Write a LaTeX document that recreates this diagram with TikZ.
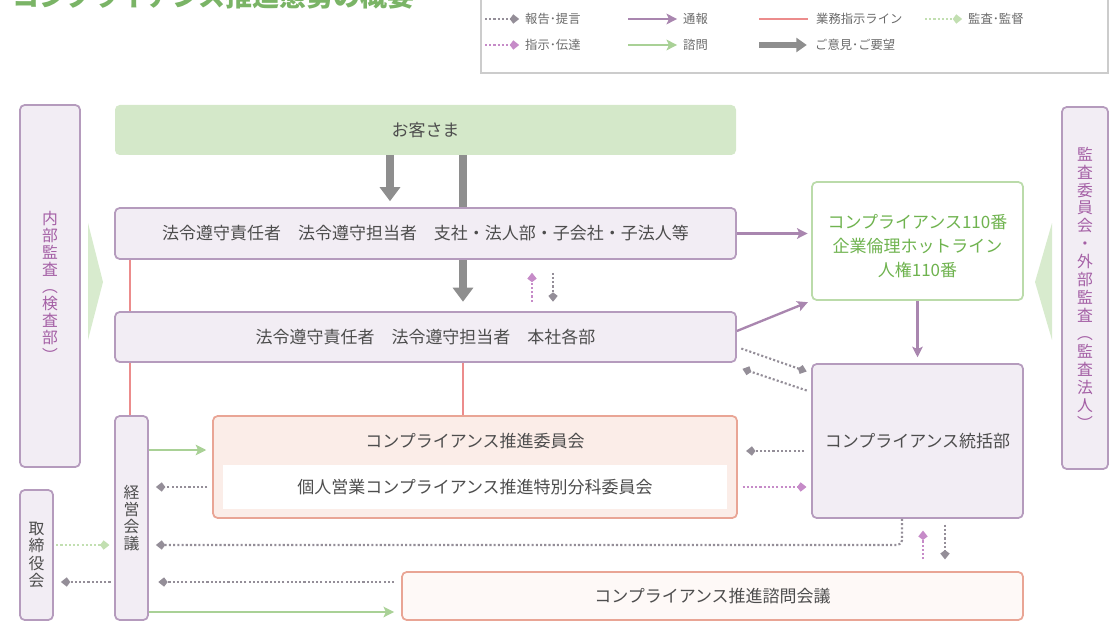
\documentclass[tikz,border=0pt]{standalone}
\usepackage{fontspec}
\setmainfont{Noto Sans CJK JP}
\usetikzlibrary{arrows.meta,calc}
\pgfdeclarelayer{background}
\pgfsetlayers{background,main}

\definecolor{txt}{HTML}{4D4D4D}
\definecolor{pbord}{HTML}{B59BBD}
\definecolor{pfill}{HTML}{F2EDF4}
\definecolor{ptxt}{HTML}{A45FA5}
\definecolor{gfill}{HTML}{D4E8C9}
\definecolor{gbord}{HTML}{BBDBAA}
\definecolor{gtxt}{HTML}{6FB34F}
\definecolor{sbord}{HTML}{E9A595}
\definecolor{sfill}{HTML}{FBEDE8}
\definecolor{sfill2}{HTML}{FEF9F7}
\definecolor{pinkline}{HTML}{EC8C8C}
\definecolor{greenarr}{HTML}{A9D196}
\definecolor{lgreendot}{HTML}{C2DFB1}
\definecolor{greydot}{HTML}{948E98}
\definecolor{pinkdot}{HTML}{C68BC8}
\definecolor{purparr}{HTML}{A986AF}
\definecolor{thickgrey}{HTML}{8E8E8E}
\definecolor{wedgec}{HTML}{D8EBCE}
\definecolor{legbord}{HTML}{CCCCCC}
\definecolor{legtxtc}{HTML}{6A6A6A}
\definecolor{titlegreen}{HTML}{7AB466}

\newcommand\mainsz{\fontsize{14.5pt}{17pt}\selectfont}
\newcommand\hotsz{\fontsize{14.5pt}{20.5pt}\selectfont}
\newcommand\vertsz{\fontsize{13.5pt}{15.3pt}\selectfont}
\newcommand\vertszb{\fontsize{13.5pt}{14.6pt}\selectfont}
\newcommand\vertszc{\fontsize{13.5pt}{14.6pt}\selectfont}
\newcommand\legsz{\fontsize{10.5pt}{12pt}\selectfont}
\newcommand\ttlsz{\fontsize{23pt}{26pt}\selectfont}

\tikzset{
  sz/.style 2 args={minimum width=#1*0.03cm, minimum height=#2*0.03cm},
  box/.style={draw=pbord, fill=pfill, line width=1.5pt, rounded corners=4pt, inner sep=0pt, text=txt, font=\mainsz},
  vbox/.style={box, font=\vertszc, align=center},
  custbox/.style={fill=gfill, rounded corners=4pt, inner sep=0pt, text=txt, font=\mainsz},
  hotbox/.style={draw=gbord, fill=white, line width=1.5pt, rounded corners=4pt, inner sep=0pt},
  hottxt/.style={inner sep=0pt, text=gtxt, font=\hotsz, align=center},
  sbox/.style={draw=sbord, fill=sfill, line width=1.5pt, rounded corners=4pt, inner sep=0pt, text=txt, font=\mainsz},
  shimonbox/.style={draw=sbord, fill=sfill2, line width=1.5pt, rounded corners=4pt, inner sep=0pt, text=txt, font=\mainsz},
  plain/.style={inner sep=0pt, text=txt, font=\mainsz},
  legtxt/.style={inner sep=0pt, text=legtxtc, font=\legsz, anchor=west},
  dottip/.style={-{Kite[length=8pt,width=8pt,inset=3pt]}},
  rep/.style={draw=greydot, line width=1.8pt, dash pattern=on 1.8pt off 1.8pt, dottip},
  ins/.style={draw=pinkdot, line width=1.8pt, dash pattern=on 1.8pt off 1.8pt, dottip},
  aud/.style={draw=lgreendot, line width=1.8pt, dash pattern=on 1.8pt off 1.8pt, dottip},
  notify/.style={draw=purparr, line width=2pt, -{Stealth[length=9pt,width=9pt,inset=2pt]}},
  consult/.style={draw=greenarr, line width=2.2pt, -{Stealth[length=9pt,width=9pt,inset=2pt]}},
  bizline/.style={draw=pinkline, line width=2pt},
  opinion/.style={draw=thickgrey, line width=6pt, -{Triangle[length=12pt,width=17pt]}},
  legopinion/.style={draw=thickgrey, line width=4.5pt, -{Triangle[length=9pt,width=12pt]}},
}

\begin{document}
\begin{tikzpicture}[x=0.03cm,y=-0.03cm]
\useasboundingbox (0,0) rectangle (1114,622);
\clip (0,0) rectangle (1114,622);

% title (partly cut off in the reference)
\node[anchor=west, inner sep=0pt, text=titlegreen, font=\ttlsz\bfseries] (title) at (12,-4) {コンプライアンス推進態勢の概要};

% legend
\node[draw=legbord, line width=1.2pt, sz={627}{83}, inner sep=0pt] (legend) at (794.5,31.5) {};
\node[legtxt] (L1) at (525,19) {報告･提言};
\node[legtxt] (L2) at (683,19) {通報};
\node[legtxt] (L3) at (816,19) {業務指示ライン};
\node[legtxt] (L4) at (968,19) {監査･監督};
\node[legtxt] (L5) at (525,45) {指示･伝達};
\node[legtxt] (L6) at (683,45) {諮問};
\node[legtxt] (L7) at (815,45) {ご意見･ご要望};
\coordinate (L1s) at (485,19);
\coordinate (L2s) at (628,19);
\coordinate (L3s) at (759,19);
\coordinate (L4s) at (925,19);
\coordinate (L5s) at (485,45);
\coordinate (L6s) at (628,45);
\coordinate (L7s) at (759,45);
\draw[rep, shorten >=5pt] (L1s) -- (L1.west);
\draw[notify, shorten >=5pt] (L2s) -- (L2.west);
\draw[bizline, shorten >=7pt] (L3s) -- (L3.west);
\draw[aud, shorten >=5pt] (L4s) -- (L4.west);
\draw[ins, shorten >=5pt] (L5s) -- (L5.west);
\draw[consult, shorten >=5pt] (L6s) -- (L6.west);
\draw[legopinion, shorten >=7pt] (L7s) -- (L7.west);

% wedges
\fill[wedgec] (88,223) -- (103,282) -- (88,340) -- cycle;
\fill[wedgec] (1052,223) -- (1035,282) -- (1052,340) -- cycle;

% nodes
\node[custbox, sz={621}{50}] (cust) at (425.5,130) {お客さま};
\node[box, sz={621}{51}] (boxA) at (425.5,233.5) {法令遵守責任者　法令遵守担当者　支社・法人部・子会社・子法人等};
\node[box, sz={621}{50}] (boxB) at (425.5,337) {法令遵守責任者　法令遵守担当者　本社各部};
\node[hotbox, sz={211}{118}] (hot) at (917.5,241) {};
\node[hottxt] (hotT) at (917.5,246) {コンプライアンス110番\\企業倫理ホットライン\\人権110番};
\node[box, sz={211}{154}] (sou) at (917.5,441) {コンプライアンス統括部};
\node[vbox, font=\vertszb, text=ptxt, sz={60}{362}] (naibu) at (50,286) {内\\部\\監\\査\\︵\\検\\査\\部\\︶};
\node[vbox, font=\vertsz, text=ptxt, sz={46}{362}] (kansa) at (1085,288) {監\\査\\委\\員\\会\\・\\外\\部\\監\\査\\︵\\監\\査\\法\\人\\︶};
\node[vbox, sz={33}{204}] (keiei) at (131.5,518) {経\\営\\会\\議};
\node[vbox, sz={33}{130}] (tori) at (36.5,555) {取\\締\\役\\会};
\node[sbox, sz={524}{102}] (iinkai) at (475,467) {};
\node[plain] (iinkaiT) at (475,441) {コンプライアンス推進委員会};
\node[fill=white, inner sep=0pt, text=txt, font=\mainsz, sz={504}{44}] (tokubetsu) at (475,487) {個人営業コンプライアンス推進特別分科委員会};
\node[shimonbox, sz={621}{48}] (shimon) at (712.5,596) {コンプライアンス推進諮問会議};

% helper coordinates
\coordinate (xc1) at (390,0);
\coordinate (xc2) at (463,0);
\coordinate (xp1) at (130,0);
\coordinate (xu1) at (532,0);
\coordinate (xd1) at (553,0);
\coordinate (xu2) at (923,0);
\coordinate (xd2) at (945,0);
\coordinate (yd1) at (0,347);
\coordinate (yd2) at (0,373);
\coordinate (yd3) at (0,392);
\coordinate (yd4) at (0,367);
\coordinate (yq) at (0,331);
\coordinate (yg1) at (0,450);
\coordinate (yg2) at (0,487);
\coordinate (ysou) at (0,451);
\coordinate (ylong) at (902,545);
\coordinate (yb1) at (0,582);
\coordinate (yb2) at (0,612);
\coordinate (yt1) at (0,545);

% opinions
\draw[opinion, shorten >=5pt] (cust.south -| xc1) -- (boxA.north -| xc1);
\begin{pgfonlayer}{background}
\draw[opinion, shorten >=8pt] (cust.south -| xc2) -- (boxB.north -| xc2);
\end{pgfonlayer}

% notifications
\draw[notify, shorten >=3pt] (boxA.east) -- (boxA.east -| hot.west);
\draw[notify, shorten >=3pt] (boxB.east |- yq) -- (hot.south west);
\draw[notify, shorten >=5pt] (hot.south) -- (sou.north);

% reports / instructions between boxes
\draw[rep, shorten <=4pt, shorten >=4pt] (boxB.east |- yd1) -- (sou.west |- yd2);
\draw[rep, shorten <=4pt, shorten >=5pt] (sou.west |- yd3) -- (boxB.east |- yd4);
\draw[ins, shorten <=8pt, shorten >=11pt] (boxB.north -| xu1) -- (boxA.south -| xu1);
\draw[rep, shorten <=11pt, shorten >=8pt] (boxA.south -| xd1) -- (boxB.north -| xd1);

% business instruction lines
\draw[bizline] (boxA.south -| xp1) -- (boxB.north -| xp1);
\draw[bizline] (boxB.south -| xp1) -- (keiei.north -| xp1);
\draw[bizline] (boxB.south -| xc2) -- (iinkai.north -| xc2);

% around management meeting
\draw[consult, shorten >=5pt] (keiei.east |- yg1) -- (iinkai.west |- yg1);
\draw[rep, shorten <=4pt, shorten >=6pt] (iinkai.west |- yg2) -- (keiei.east |- yg2);
\draw[rep, shorten <=6pt, shorten >=7pt] (sou.west |- ysou) -- (iinkai.east |- ysou);
\draw[ins, shorten <=4pt, shorten >=4pt] (iinkai.east |- yg2) -- (sou.west |- yg2);
\draw[rep, rounded corners=4pt, shorten >=6pt] (sou.south -| ylong) |- (keiei.east |- ylong);
\draw[ins, shorten <=10pt, shorten >=10pt] (shimon.north -| xu2) -- (sou.south -| xu2);
\draw[rep, shorten <=5pt, shorten >=10pt] (sou.south -| xd2) -- (shimon.north -| xd2);
\draw[rep, shorten <=6pt, shorten >=8pt] (shimon.west |- yb1) -- (keiei.east |- yb1);
\draw[consult, shorten >=6pt] (keiei.east |- yb2) -- (shimon.west |- yb2);
\draw[aud, shorten <=2pt, shorten >=4pt] (tori.east |- yt1) -- (keiei.west |- yt1);
\draw[rep, shorten <=3pt, shorten >=6pt] (keiei.west |- yb1) -- (tori.east |- yb1);
\end{tikzpicture}
\end{document}
